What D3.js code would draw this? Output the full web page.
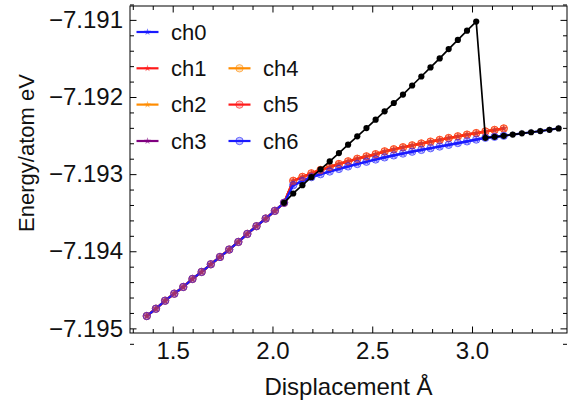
<!DOCTYPE html>
<html>
<head>
<meta charset="utf-8">
<script src="https://cdn.jsdelivr.net/npm/d3@7"></script>
<style>
body{margin:0;background:#fff;}
text{font-family:"Liberation Sans",Arial,sans-serif;fill:#111;}
</style>
</head>
<body>
<svg id="chart" width="570" height="403"></svg>
<script>
// displacement values (Å) for every step
const displacement=[1.370,1.416,1.462,1.508,1.553,1.599,1.645,1.691,1.737,1.783,1.829,1.874,1.920,1.966,2.012,2.058,
  2.104,2.150,2.195,2.241,2.287,2.333,2.379,2.425,2.471,2.517,2.562,2.608,2.654,2.700,2.746,2.792,2.838,2.883,2.929,2.975,
  3.021,3.067,3.113,3.159,3.204,3.250,3.296,3.342,3.388,3.434];

// common part, steps 0..15
const shared=[-7.194840,-7.194745,-7.194641,-7.194550,-7.194463,-7.194359,-7.194268,-7.194169,-7.194074,-7.193978,
  -7.193879,-7.193775,-7.193675,-7.193576,-7.193476,-7.193372];
// upper branch, steps 16..39
const upper=[-7.193087,-7.193036,-7.192990,-7.192947,-7.192907,-7.192869,-7.192834,-7.192801,-7.192770,-7.192742,
  -7.192705,-7.192678,-7.192652,-7.192627,-7.192603,-7.192579,-7.192556,-7.192532,-7.192510,-7.192488,
  -7.192468,-7.192447,-7.192427,-7.192408];
// lower branch, steps 16..45
const lower=[-7.193143,-7.193091,-7.193039,-7.193001,-7.192966,-7.192933,-7.192900,-7.192869,-7.192839,-7.192810,
  -7.192783,-7.192757,-7.192733,-7.192709,-7.192686,-7.192664,-7.192642,-7.192620,-7.192597,-7.192575,
  -7.192552,-7.192529,-7.192516,-7.192503,-7.192487,-7.192471,-7.192457,-7.192442,-7.192425,-7.192407];
// black run, steps 16..36 (then joins the lower branch)
const blackRise=[-7.193251,-7.193143,-7.193039,-7.192938,-7.192835,-7.192727,-7.192618,-7.192510,-7.192403,-7.192294,
  -7.192186,-7.192078,-7.191968,-7.191851,-7.191734,-7.191617,-7.191500,-7.191379,-7.191260,-7.191140,-7.191022];

const xTicks=[1.5,2.0,2.5,3.0];
const yTicks=[-7.195,-7.194,-7.193,-7.192,-7.191];
const names=["ch0","ch1","ch2","ch3","ch4","ch5","ch6"];
const colors=["#1a1aff","#ff1a1a","#ff8c00","#800080","#ff8c00","#ff1a1a","#1a1aff"];
const markers=["star","star","star","star","circle","circle","circle"];

function pts(ys,start){return ys.map((v,k)=>({x:displacement[start+k],y:v}));}
const upperSeries=pts(shared.concat(upper),0);
const seriesData=[
  pts(shared.concat(lower),0),
  upperSeries,upperSeries,upperSeries,upperSeries,upperSeries,
  pts(shared.concat(lower.slice(0,24)),0)
];
const blackData=pts([shared[15]].concat(blackRise,lower.slice(21)),15);

const svg=d3.select("#chart");
const L=130,R=567,T=6,B=333;
const x=d3.scaleLinear().domain([1.286,3.476]).range([L,R]);
const y=d3.scaleLinear().domain([-7.19506,-7.19082]).range([B,T]);

const minorX=d3.range(13,35).map(d=>d/10).filter(d=>!xTicks.some(t=>Math.abs(t-d)<1e-9));
const minorY=d3.range(-71952,-71907,2).map(d=>d/10000).filter(d=>!yTicks.some(t=>Math.abs(t-d)<1e-9));

function axis(gen,pos,vals,size,fmt){
  const g=svg.append("g").attr("transform",pos)
    .call(gen.tickValues(vals).tickSizeInner(-size).tickSizeOuter(0).tickPadding(fmt?9:0)
      .tickFormat(fmt||(()=>"")));
  g.select(".domain").remove();
  g.selectAll("line").attr("stroke","#000");
  g.selectAll("text").attr("font-size",24).attr("font-family","'Liberation Sans',Arial,sans-serif").attr("fill","#111");
  return g;
}
axis(d3.axisBottom(x),`translate(0,${B})`,xTicks,6.5,d3.format(".1f"));
axis(d3.axisBottom(x),`translate(0,${B})`,minorX,4);
axis(d3.axisTop(x),`translate(0,${T})`,xTicks,6.5);
axis(d3.axisTop(x),`translate(0,${T})`,minorX,4);
const ly=axis(d3.axisLeft(y),`translate(${L},0)`,yTicks,6.5,d3.format(".3f"));
ly.selectAll("text").attr("x",-7);
axis(d3.axisLeft(y),`translate(${L},0)`,minorY,4);
axis(d3.axisRight(y),`translate(${R},0)`,yTicks,6.5);
axis(d3.axisRight(y),`translate(${R},0)`,minorY,4);

svg.append("rect").attr("x",L).attr("y",T).attr("width",R-L).attr("height",B-T)
  .attr("fill","none").attr("stroke","#000").attr("stroke-width",1);

const line=d3.line().x(d=>x(d.x)).y(d=>y(d.y));
const plot=svg.append("g");

seriesData.forEach((s,i)=>{
  plot.append("path").datum(s).attr("d",line).attr("fill","none")
    .attr("stroke",colors[i]).attr("stroke-width",2.2);
});

const star=d3.symbol().type(d3.symbolStar).size(16);
function drawMarkers(g,data,i,cx,cy){
  if(markers[i]=="circle"){
    g.selectAll(null).data(data).enter().append("circle")
      .attr("cx",cx).attr("cy",cy).attr("r",3.7)
      .attr("fill",colors[i]).attr("fill-opacity",0.25)
      .attr("stroke",colors[i]).attr("stroke-opacity",0.6).attr("stroke-width",1);
  } else {
    g.selectAll(null).data(data).enter().append("path")
      .attr("d",star).attr("transform",d=>`translate(${cx(d)},${cy(d)})`)
      .attr("fill",colors[i]).attr("fill-opacity",0.6);
  }
}
seriesData.forEach((s,i)=>{
  drawMarkers(plot.append("g"),s,i,d=>x(d.x),d=>y(d.y));
});

plot.append("path").datum(blackData).attr("d",line).attr("fill","none")
  .attr("stroke","#000").attr("stroke-width",1.7);
plot.selectAll("circle.blk").data(blackData).enter().append("circle").attr("class","blk")
  .attr("cx",d=>x(d.x)).attr("cy",d=>y(d.y)).attr("r",3.1).attr("fill","#000");

// legend
const legX=[147.5,239.5],legY=[32,68.3,104.6,141];
names.forEach((n,i)=>{
  const col=i<4?0:1,row=i<4?i:i-3;
  const g=svg.append("g").attr("transform",`translate(${legX[col]},${legY[row]})`);
  g.append("line").attr("x1",-11).attr("x2",11).attr("stroke",colors[i]).attr("stroke-width",2.2);
  drawMarkers(g,[0],i,()=>0,()=>0);
  g.append("text").attr("x",23.5).attr("dy","0.35em").attr("font-size",22).text(n);
});

svg.append("text").attr("x",(L+R)/2).attr("y",395).attr("text-anchor","middle")
  .attr("font-size",24).text("Displacement Å");
svg.append("text").attr("transform","translate(34,153) rotate(-90)").attr("text-anchor","middle")
  .attr("font-size",22).text("Energy/atom eV");
</script>
</body>
</html>
